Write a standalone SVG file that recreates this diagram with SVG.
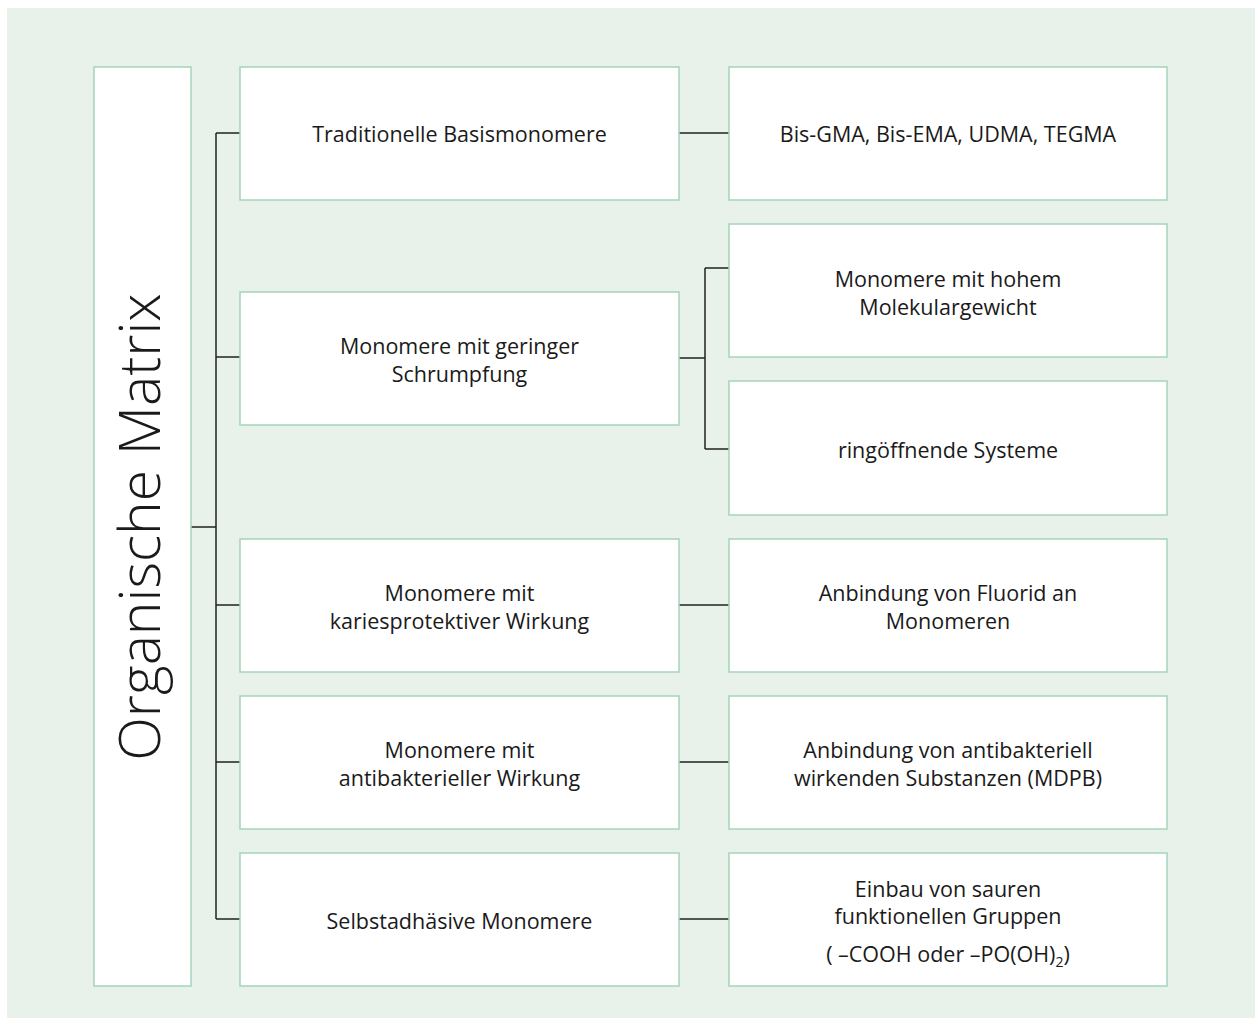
<svg xmlns="http://www.w3.org/2000/svg" width="1255" height="1018" viewBox="0 0 1255 1018">
<style>
.box{fill:#fff;stroke:#a3d5b8;stroke-width:1.5}
.t{font-family:"Open Sans","Noto Sans",sans-serif;font-size:21.5px;fill:#1a1a1a;text-anchor:middle}
.c{fill:none;stroke:#222;stroke-width:1.5}
</style>
<rect x="7" y="8" width="1248" height="1010" fill="#e8f2eb"/>
<g id="connectors">
<path class="c" d="M191,527H216M216,133V919M216,133H240M216,357H240M216,605H240M216,762H240M216,919H240"/>
<path class="c" d="M679,133H729M679,358H705M705,268V449M705,268H729M705,449H729M679,605H729M679,762H729M679,919H729"/>
</g>
<g id="n0"><rect class="box" x="94" y="67" width="97" height="919"/>
<text transform="translate(160,527) rotate(-90)" style="font-family:'Open Sans','Noto Sans',sans-serif;font-size:57px;font-weight:300;fill:#1a1a1a;text-anchor:middle">Organische Matrix</text></g>
<g id="n1"><rect class="box" x="240" y="67" width="439" height="133"/><text class="t" x="459.5" y="142">Traditionelle Basismonomere</text></g>
<g id="n2"><rect class="box" x="729" y="67" width="438" height="133"/><text class="t" x="948" y="142">Bis-GMA, Bis-EMA, UDMA, TEGMA</text></g>
<g id="n3"><rect class="box" x="240" y="292" width="439" height="133"/><text class="t" x="459.5" y="354">Monomere mit geringer</text><text class="t" x="459.5" y="382">Schrumpfung</text></g>
<g id="n4"><rect class="box" x="729" y="224" width="438" height="133"/><text class="t" x="948" y="287">Monomere mit hohem</text><text class="t" x="948" y="315">Molekulargewicht</text></g>
<g id="n5"><rect class="box" x="729" y="381" width="438" height="134"/><text class="t" x="948" y="458">ringöffnende Systeme</text></g>
<g id="n6"><rect class="box" x="240" y="539" width="439" height="133"/><text class="t" x="459.5" y="601">Monomere mit</text><text class="t" x="459.5" y="629">kariesprotektiver Wirkung</text></g>
<g id="n7"><rect class="box" x="729" y="539" width="438" height="133"/><text class="t" x="948" y="601">Anbindung von Fluorid an</text><text class="t" x="948" y="629">Monomeren</text></g>
<g id="n8"><rect class="box" x="240" y="696" width="439" height="133"/><text class="t" x="459.5" y="758">Monomere mit</text><text class="t" x="459.5" y="786">antibakterieller Wirkung</text></g>
<g id="n9"><rect class="box" x="729" y="696" width="438" height="133"/><text class="t" x="948" y="758">Anbindung von antibakteriell</text><text class="t" x="948" y="786">wirkenden Substanzen (MDPB)</text></g>
<g id="n10"><rect class="box" x="240" y="853" width="439" height="133"/><text class="t" x="459.5" y="929">Selbstadhäsive Monomere</text></g>
<g id="n11"><rect class="box" x="729" y="853" width="438" height="133"/><text class="t" x="948" y="897">Einbau von sauren</text><text class="t" x="948" y="924">funktionellen Gruppen</text><text class="t" x="948" y="962">( –COOH oder –PO(OH)<tspan font-size="14" dy="5">2</tspan><tspan dy="-5">)</tspan></text></g>
</svg>
